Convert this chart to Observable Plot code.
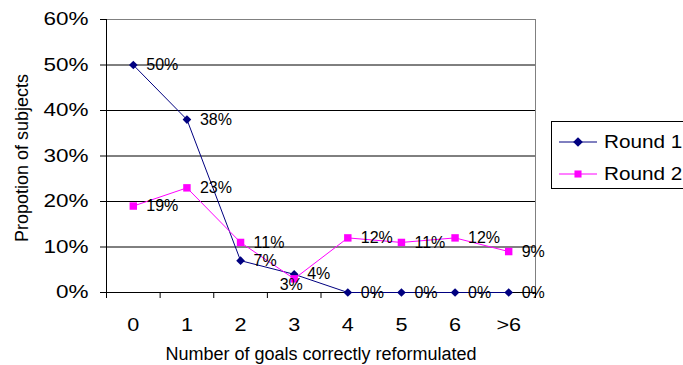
<!DOCTYPE html>
<html>
<head>
<meta charset="utf-8">
<script src="https://cdn.jsdelivr.net/npm/d3@7"></script>
<script src="https://cdn.jsdelivr.net/npm/@observablehq/plot@0.6"></script>
<style>
  html, body { margin: 0; padding: 0; background: #fff; overflow: hidden; }
  #chart { position: relative; width: 683px; height: 365px; font-family: "Liberation Sans", Arial, sans-serif; }
  .legend { position: absolute; left: 551px; top: 121px; width: 150px; height: 66px; border: 1px solid #000; background: #fff; }
  .legend .item { position: absolute; left: 0; height: 20px; width: 150px; }
  .legend svg { position: absolute; left: 7px; top: 0; }
  .legend span { position: absolute; left: 52px; top: 0; line-height: 20px; font-size: 18px; color: #000;
                 display: inline-block; transform: scaleX(1.15); transform-origin: left center; white-space: nowrap; }
</style>
</head>
<body>
<div id="chart"></div>
<script>
// Share of subjects by number of goals correctly reformulated, per round (percent)
const categories = ["0", "1", "2", "3", "4", "5", "6", ">6"];
const round1 = [50, 38, 7, 4, 0, 0, 0, 0];
const round2 = [19, 23, 11, 3, 12, 11, 12, 9];
const yTicks = [0, 10, 20, 30, 40, 50, 60];
const seriesNames = ["Round 1", "Round 2"];
const xTitle = "Number of goals correctly reformulated";
const yTitle = "Propotion of subjects";

const navy = "#000080";
const magenta = "#FF00FF";
const font = "'Liberation Sans', Arial, sans-serif";

const idx = categories.map((_, i) => i);
const bounds = [...idx.map(i => i - 0.5), categories.length - 0.5];
const rows1 = idx.map(i => ({i, v: round1[i]}));
const rows2 = idx.map(i => ({i, v: round2[i]}));
const pct = d => `${d.v}%`;
// this round-2 label is set below the point so it clears the round-1 label beside it
const lowered = new Set([3]);

const chart = Plot.plot({
  width: 683,
  height: 365,
  marginLeft: 106,
  marginRight: 148,
  marginTop: 19,
  marginBottom: 73,
  style: {fontFamily: font, background: "#fff", color: "#000", overflow: "visible"},
  x: {type: "linear", domain: [-0.5, categories.length - 0.5]},
  y: {domain: [0, 60]},
  marks: [
    Plot.frame({stroke: "#808080"}),
    Plot.ruleY(yTicks.filter(t => t > 0 && t < 60), {stroke: "#000"}),
    Plot.ruleY([0], {stroke: "#000"}),
    Plot.ruleX([bounds[0]], {stroke: "#000"}),
    Plot.axisY({ticks: yTicks, tickSize: 6, tickPadding: 12, tickFormat: d => d + "%", fontSize: 18, label: null}),
    Plot.axisX({ticks: bounds, tickSize: 6, tickFormat: () => "", label: null}),
    Plot.axisX({ticks: idx, tickSize: 0, tickPadding: 26, tickFormat: i => categories[i], fontSize: 18, label: null}),
    Plot.line(rows1, {x: "i", y: "v", stroke: navy, strokeWidth: 1}),
    Plot.dot(rows1, {x: "i", y: "v", symbol: "diamond2", r: 3.9, fill: navy, stroke: "none"}),
    Plot.line(rows2, {x: "i", y: "v", stroke: magenta, strokeWidth: 1}),
    Plot.dot(rows2, {x: "i", y: "v", symbol: "square", r: 4.2, fill: magenta, stroke: "none"}),
    Plot.text(rows1, {x: "i", y: "v", text: pct, textAnchor: "start", dx: 13, fontSize: 16, fill: "#000", ariaLabel: "value label"}),
    Plot.text(rows2.filter(d => !lowered.has(d.i)), {x: "i", y: "v", text: pct, textAnchor: "start", dx: 13, fontSize: 16, fill: "#000", ariaLabel: "value label"}),
    Plot.text(rows2.filter(d => lowered.has(d.i)), {x: "i", y: "v", text: pct, textAnchor: "middle", dx: -3, dy: 6, fontSize: 16, fill: "#000", ariaLabel: "value label"}),
    Plot.text([yTitle], {frameAnchor: "left", textAnchor: "middle", lineAnchor: "middle", rotate: -90, dx: -84, dy: 2, fontSize: 18, fill: "#000"}),
    Plot.text([xTitle], {frameAnchor: "bottom", textAnchor: "middle", lineAnchor: "middle", dy: 62, fontSize: 18, fill: "#000"})
  ]
});

// widen the tick and value labels to the chart's broad lettering
const stretch = {"y-axis tick label": 1.25, "x-axis tick label": 1.2, "value label": 1.1};
for (const [name, s] of Object.entries(stretch)) {
  chart.querySelectorAll(`g[aria-label="${name}"] text`).forEach(t => {
    const tr = t.getAttribute("transform");
    if (tr) t.setAttribute("transform", `${tr} scale(${s},1)`);
    else {
      const x = +t.getAttribute("x") || 0;
      t.setAttribute("transform", `translate(${x},0) scale(${s},1) translate(${-x},0)`);
    }
  });
}

const root = document.getElementById("chart");
root.appendChild(chart);

// legend box with line-and-marker swatches
const legend = document.createElement("div");
legend.className = "legend";
const colors = [navy, magenta];
const symbols = [d3.symbol(d3.symbolDiamond2, 60), d3.symbol(d3.symbolSquare, 50)];
seriesNames.forEach((name, k) => {
  const item = document.createElement("div");
  item.className = "item";
  item.style.top = (10 + k * 32) + "px";
  item.innerHTML =
    `<svg width="40" height="20"><line x1="0" x2="38" y1="10" y2="10" stroke="${colors[k]}" stroke-width="1"/>` +
    `<path transform="translate(19,10)" d="${symbols[k]()}" fill="${colors[k]}"/></svg><span>${name}</span>`;
  legend.appendChild(item);
});
root.appendChild(legend);
</script>
</body>
</html>
